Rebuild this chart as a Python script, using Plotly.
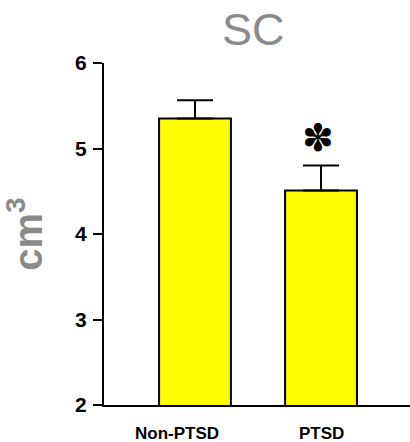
import plotly.graph_objects as go

categories = ["Non-PTSD", "PTSD"]
means = [5.35, 4.51]
errors = [0.215, 0.29]
significance = ["", "✽"]
y_ticks = [2, 3, 4, 5, 6]
title_text = "SC"
y_title = "cm<sup>3</sup>"

xpos = list(range(len(categories)))

fig = go.Figure()
fig.add_trace(go.Bar(
    x=xpos, y=means, width=0.57,
    marker=dict(color="#FFFF00", line=dict(color="black", width=2)),
    error_y=dict(type="data", array=errors, arrayminus=[0] * len(errors),
                 symmetric=False, color="black", thickness=2, width=18),
    showlegend=False,
))

annotations = []
label_shift = [-18, 0]
for i, c in enumerate(categories):
    annotations.append(dict(
        x=xpos[i], y=0, xref="x", yref="paper", text=c, showarrow=False,
        yanchor="top", yshift=-17, xshift=label_shift[i],
        font=dict(family="Arial", size=17, color="black", weight="bold"),
    ))
for i, s in enumerate(significance):
    if s:
        annotations.append(dict(
            x=xpos[i], y=means[i] + errors[i], xref="x", yref="y", text=s,
            showarrow=False, yanchor="bottom", yshift=4, xshift=-3,
            font=dict(family="DejaVu Sans", size=38, color="black"),
        ))
annotations.append(dict(
    x=0.49, y=1, xref="paper", yref="paper", text=title_text, showarrow=False,
    yanchor="bottom", yshift=6,
    font=dict(family="Arial", size=45, color="#8a8a8a"),
))

fig.update_layout(
    width=410, height=442,
    margin=dict(l=104, r=0, t=63, b=37),
    plot_bgcolor="white", paper_bgcolor="white",
    annotations=annotations,
    xaxis=dict(range=[-0.722, 1.706], showticklabels=False, ticks="",
               showgrid=False, zeroline=False, showline=True,
               linecolor="black", linewidth=2),
    yaxis=dict(range=[2, 6], tickvals=y_ticks, ticks="outside", ticklen=9,
               tickwidth=2, tickcolor="black", showgrid=False, zeroline=False,
               showline=True, linecolor="black", linewidth=2,
               tickfont=dict(family="Arial", size=21, color="black", weight="bold"),
               ticklabelstandoff=2,
               title=dict(text=y_title, standoff=28,
                          font=dict(family="Arial", size=40, color="#8a8a8a", weight="bold"))),
)

fig.write_html("out.html", config={"displayModeBar": False},
               post_script="document.body.style.margin='0';document.body.style.padding='0';")
